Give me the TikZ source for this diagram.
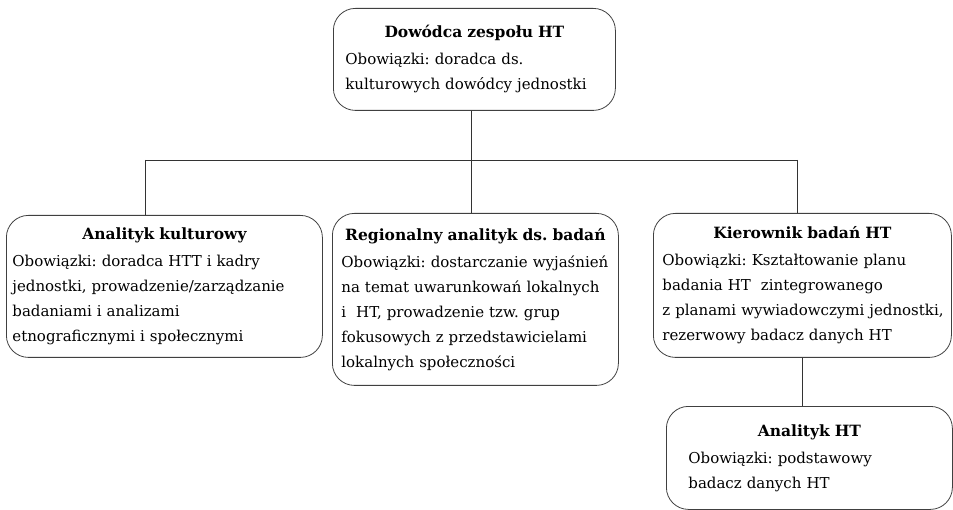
\documentclass[tikz,border=0pt]{standalone}
\usepackage{fontspec}
\setmainfont{DejaVu Serif}
\frenchspacing
\hyphenpenalty=10000
\usetikzlibrary{positioning}
\tikzset{x=1pt, y=-1pt,
	role/.style={
		draw=black!75,
		line width=0.8pt,
		rounded corners=22pt,
		align=left,
		anchor=north west,
		font=\fontsize{15}{25}\selectfont},
	link/.style={
		draw=black!80,
		line width=0.8pt}
}
\newcommand{\roletitle}[1]{\makebox[\linewidth][c]{\fontsize{15.5}{25}\selectfont\bfseries #1}\par\vspace{2pt}}

\begin{document}
\begin{tikzpicture}
				\useasboundingbox (0,0) rectangle (953,510);
				\node[role, text width=258pt, inner xsep=12pt, minimum height=102pt] (dowodca) at (333,8)
					{\roletitle{Dowódca zespołu HT}Obowiązki: doradca ds.\\kulturowych dowódcy jednostki};
				\node[role, text width=304pt, inner xsep=6pt, minimum height=142pt] (kulturowy) at (6,215)
					{\roletitle{Analityk kulturowy}Obowiązki: doradca HTT i kadry\\\mbox{jednostki, prowadzenie/zarządzanie}\\badaniami i analizami\\etnograficznymi i społecznymi};
				\node[role, text width=268pt, inner xsep=9pt, minimum height=172pt] (regionalny) at (332,213)
					{\roletitle{Regionalny analityk ds. badań}\mbox{Obowiązki: dostarczanie wyjaśnień}\\na temat uwarunkowań lokalnych\\i~~HT, prowadzenie tzw. grup\\fokusowych z przedstawicielami\\lokalnych społeczności};
				\node[role, text width=280pt, inner xsep=9pt, minimum height=144pt] (kierownik) at (653,213)
					{\roletitle{Kierownik badań HT}Obowiązki: Kształtowanie planu\\badania HT~~zintegrowanego\\\mbox{z planami wywiadowczymi jednostki,}\\rezerwowy badacz danych HT};
				\node[role, text width=242pt, inner xsep=22pt, minimum height=103pt] (analityk) at (666,406)
					{\roletitle{Analityk HT}Obowiązki: podstawowy\\badacz danych HT};
				\coordinate (bus) at (471,160);
				\coordinate (busL) at (145,160);
				\coordinate (busR) at (797,160);
				\draw[link] (dowodca.south -| bus) -- (bus);
				\draw[link] (busL) -- (busR);
				\draw[link] (busL) -- (busL |- kulturowy.north);
				\draw[link] (bus) -- (bus |- regionalny.north);
				\draw[link] (busR) -- (busR |- kierownik.north);
				\draw[link] (kierownik.south) -- (kierownik.south |- analityk.north);
			\end{tikzpicture}
\end{document}
